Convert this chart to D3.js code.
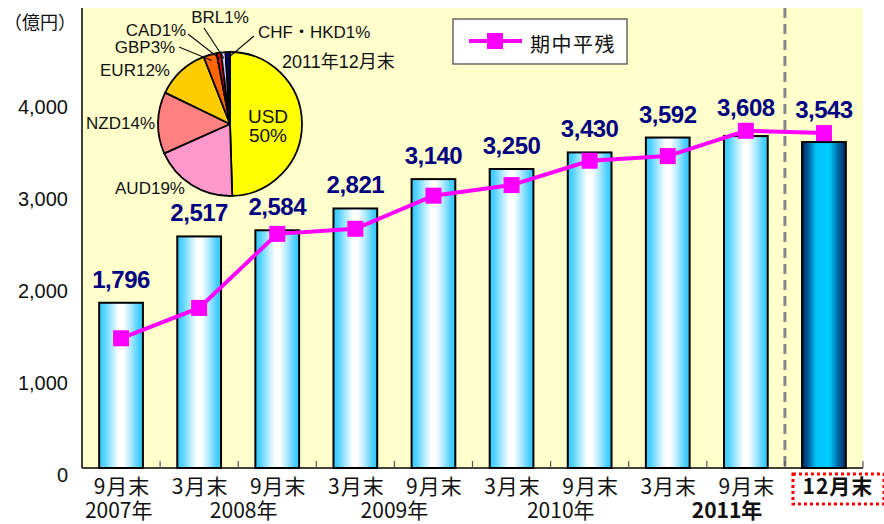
<!DOCTYPE html>
<html><head><meta charset="utf-8">
<script src="https://cdn.jsdelivr.net/npm/d3@7"></script>
<style>
html,body{margin:0;padding:0;background:#fff;}
svg{display:block;}
</style></head>
<body>
<svg id="chart" width="884" height="524"></svg>
<script>
// ---------- data ----------
const categories = ["9月末","3月末","9月末","3月末","9月末","3月末","9月末","3月末","9月末","12月末"];
const balances   = [1796, 2517, 2584, 2821, 3140, 3250, 3430, 3592, 3608, 3543];
const averages   = [1410, 1740, 2545, 2600, 2960, 3075, 3340, 3390, 3665, 3640];
const yearLabels = ["2007年","2008年","2009年","2010年","2011年"];
const yTicks     = [0, 1000, 2000, 3000, 4000];
const seriesName = "期中平残";
const unitLabel  = "（億円）";
const pieNames   = ["USD","AUD","NZD","EUR","GBP","CAD","BRL","CHF・HKD"];
const pieValues  = [50, 19, 14, 12, 3, 1, 1, 1];
const pieTitle   = "2011年12月末";

// ---------- layout ----------
const L = 82, R = 863, T = 8, B = 468;
const svg = d3.select("#chart");
const defs = svg.append("defs");
const x = d3.scaleBand().domain(d3.range(categories.length)).range([L, R]).paddingInner(0.44).paddingOuter(0.22);
const xb = d3.scaleBand().domain(d3.range(categories.length)).range([L, R]);
const y = d3.scaleLinear().domain([0, 5000]).range([B, T]);

// gradients
const g1 = defs.append("linearGradient").attr("id","gBar").attr("x1","0").attr("x2","1").attr("y1","0").attr("y2","0");
[[0,"#2EC8FF"],[0.12,"#55D3FF"],[0.3,"#B5EDFF"],[0.45,"#FFFFFF"],[0.55,"#FFFFFF"],[0.72,"#B0EAFF"],[0.9,"#4ACFFF"],[1,"#2EC8FF"]]
  .forEach(([o,c])=>g1.append("stop").attr("offset",o).attr("stop-color",c));
const g2 = defs.append("linearGradient").attr("id","gLast").attr("x1","0").attr("x2","1").attr("y1","0").attr("y2","0");
[[0,"#002A66"],[0.12,"#00508F"],[0.32,"#00C4F8"],[0.62,"#00CCFF"],[0.85,"#005A9A"],[1,"#002A66"]]
  .forEach(([o,c])=>g2.append("stop").attr("offset",o).attr("stop-color",c));

// plot background
svg.append("rect").attr("x",L).attr("y",T).attr("width",R-L).attr("height",B-T).attr("fill","#FFFFCC");

// bars
svg.append("g").selectAll("rect").data(balances).join("rect")
  .attr("x",(d,i)=>x(i)).attr("y",d=>y(d)).attr("width",x.bandwidth()).attr("height",d=>B-y(d))
  .attr("fill",(d,i)=>i===balances.length-1?"url(#gLast)":"url(#gBar)")
  .attr("stroke","#000").attr("stroke-width",2);

// dashed separator
svg.append("line").attr("x1",xb(categories.length-1)).attr("x2",xb(categories.length-1))
  .attr("y1",T).attr("y2",B).attr("stroke","#888").attr("stroke-width",3).attr("stroke-dasharray","10,6");

// axes lines
svg.append("line").attr("x1",L).attr("x2",L).attr("y1",T).attr("y2",B).attr("stroke","#000").attr("stroke-width",1.5);
svg.append("line").attr("x1",L).attr("x2",R).attr("y1",B).attr("y2",B).attr("stroke","#000").attr("stroke-width",1.5);
// x ticks (inside)
svg.append("g").selectAll("line").data(d3.range(1,categories.length+1)).join("line")
  .attr("x1",i=>i<categories.length?xb(i):R).attr("x2",i=>i<categories.length?xb(i):R)
  .attr("y1",B).attr("y2",B-7).attr("stroke","#555").attr("stroke-width",1.2);

// y tick labels
svg.append("g").selectAll("text").data(yTicks).join("text")
  .attr("x",68).attr("y",d=>y(d)+7).attr("text-anchor","end").attr("dominant-baseline","central")
  .attr("font-family","Liberation Sans, Arial, sans-serif").attr("font-size",20).attr("fill","#111")
  .text(d=>d3.format(",")(d));
svg.append("text").attr("x",4).attr("y",29).attr("font-family","Noto Sans CJK JP, sans-serif")
  .attr("font-size",18).attr("fill","#111").text(unitLabel);

// line series
const lineGen = d3.line().x((d,i)=>xb(i)+xb.bandwidth()/2).y(d=>y(d));
svg.append("path").datum(averages).attr("d",lineGen).attr("fill","none").attr("stroke","#FF00FF").attr("stroke-width",4);
svg.append("g").selectAll("rect").data(averages).join("rect")
  .attr("x",(d,i)=>xb(i)+xb.bandwidth()/2-8).attr("y",d=>y(d)-8).attr("width",16).attr("height",16).attr("fill","#FF00FF");

// value labels
svg.append("g").selectAll("text").data(balances).join("text")
  .attr("x",(d,i)=>xb(i)+xb.bandwidth()/2)
  .attr("y",(d,i)=>Math.min(y(d)-15, y(averages[i])-15))
  .attr("text-anchor","middle").attr("font-family","Liberation Sans, Arial, sans-serif")
  .attr("font-weight","bold").attr("font-size",24).attr("letter-spacing",-0.5).attr("fill","#000080")
  .text(d=>d3.format(",")(d));

// category labels
svg.append("g").selectAll("text").data(categories).join("text")
  .attr("x",(d,i)=>xb(i)+xb.bandwidth()/2+(i===categories.length-1?14:1))
  .attr("y",494).attr("text-anchor","middle").attr("font-family","Noto Sans CJK JP, sans-serif")
  .attr("font-size",21).attr("letter-spacing",1)
  .attr("font-weight",(d,i)=>i===categories.length-1?"bold":"normal").attr("fill","#111")
  .text(d=>d);
// red dotted box around last category
const lastC = xb(categories.length-1)+xb.bandwidth()/2+14;
svg.append("rect").attr("x",lastC-45).attr("y",474).attr("width",91).attr("height",30)
  .attr("fill","none").attr("stroke","#FF0000").attr("stroke-width",3).attr("stroke-dasharray","3,3");

// year labels
const yearPos = [0.47, 2.07, 4.0, 6.13, 8.26];
svg.append("g").selectAll("text").data(yearLabels).join("text")
  .attr("x",(d,i)=>L+yearPos[i]*xb.bandwidth()).attr("y",518).attr("text-anchor","middle")
  .attr("font-family","Noto Sans CJK JP, sans-serif").attr("font-size",21)
  .attr("font-weight",(d,i)=>i===yearLabels.length-1?"bold":"normal").attr("fill","#111")
  .text(d=>d);

// legend
const lg = svg.append("g");
lg.append("rect").attr("x",453).attr("y",19).attr("width",174).attr("height",45).attr("fill","#fff").attr("stroke","#444").attr("stroke-width",1.2);
lg.append("line").attr("x1",469).attr("x2",522).attr("y1",41).attr("y2",41).attr("stroke","#FF00FF").attr("stroke-width",4);
lg.append("rect").attr("x",487).attr("y",33).attr("width",16).attr("height",16).attr("fill","#FF00FF");
lg.append("text").attr("x",530).attr("y",43).attr("dominant-baseline","central")
  .attr("font-family","Noto Sans CJK JP, sans-serif").attr("font-size",20).attr("letter-spacing",1.5).attr("fill","#111").text(seriesName);

// pie
const cx = 230, cy = 124, r = 72;
const pieColors = ["#FFFF00","#FF99CC","#FF8080","#FFCC00","#FF6600","#FF0000","#CCCCFF","#000080"];
const arcs = d3.pie().sort(null).value(d=>d)(pieValues);
const arcGen = d3.arc().innerRadius(0).outerRadius(r);
const pg = svg.append("g").attr("transform",`translate(${cx},${cy})`);
pg.selectAll("path").data(arcs).join("path").attr("d",arcGen)
  .attr("fill",(d,i)=>pieColors[i]).attr("stroke","#000").attr("stroke-width",1.8).attr("stroke-linejoin","round");

// pie labels
const pf = "Liberation Sans, Arial, Noto Sans CJK JP, sans-serif";
const pieLabelPos = [
  null,
  {x:150,y:194,a:"middle"},
  {x:155,y:129,a:"end"},
  {x:135,y:76,a:"middle"},
  {x:145,y:53,a:"middle", lx:179, ly:47},
  {x:156,y:36,a:"middle", lx:188, ly:34},
  {x:220,y:23,a:"middle", lx:204, ly:28},
  {x:258,y:38,a:"start", lx:254, ly:36}
];
const lblG = svg.append("g").attr("font-family",pf).attr("font-size",17).attr("fill","#111");
pieNames.forEach((n,i)=>{
  const p = pieLabelPos[i];
  if(!p) return;
  lblG.append("text").attr("x",p.x).attr("y",p.y).attr("text-anchor",p.a).text(n+pieValues[i]+"%");
  if(p.lx!==undefined){
    const a = (arcs[i].startAngle+arcs[i].endAngle)/2;
    const rr = r-6;
    lblG.append("line").attr("x1",p.lx).attr("y1",p.ly)
      .attr("x2",cx+Math.sin(a)*rr).attr("y2",cy-Math.cos(a)*rr)
      .attr("stroke","#111").attr("stroke-width",1.2);
  }
});
// USD inside
lblG.append("text").attr("x",cx+38).attr("y",cy-1).attr("text-anchor","middle").attr("font-size",19).text(pieNames[0]);
lblG.append("text").attr("x",cx+38).attr("y",cy+18).attr("text-anchor","middle").attr("font-size",19).text(pieValues[0]+"%");
lblG.append("text").attr("x",282).attr("y",68).attr("font-size",18).text(pieTitle);
</script>
</body></html>
